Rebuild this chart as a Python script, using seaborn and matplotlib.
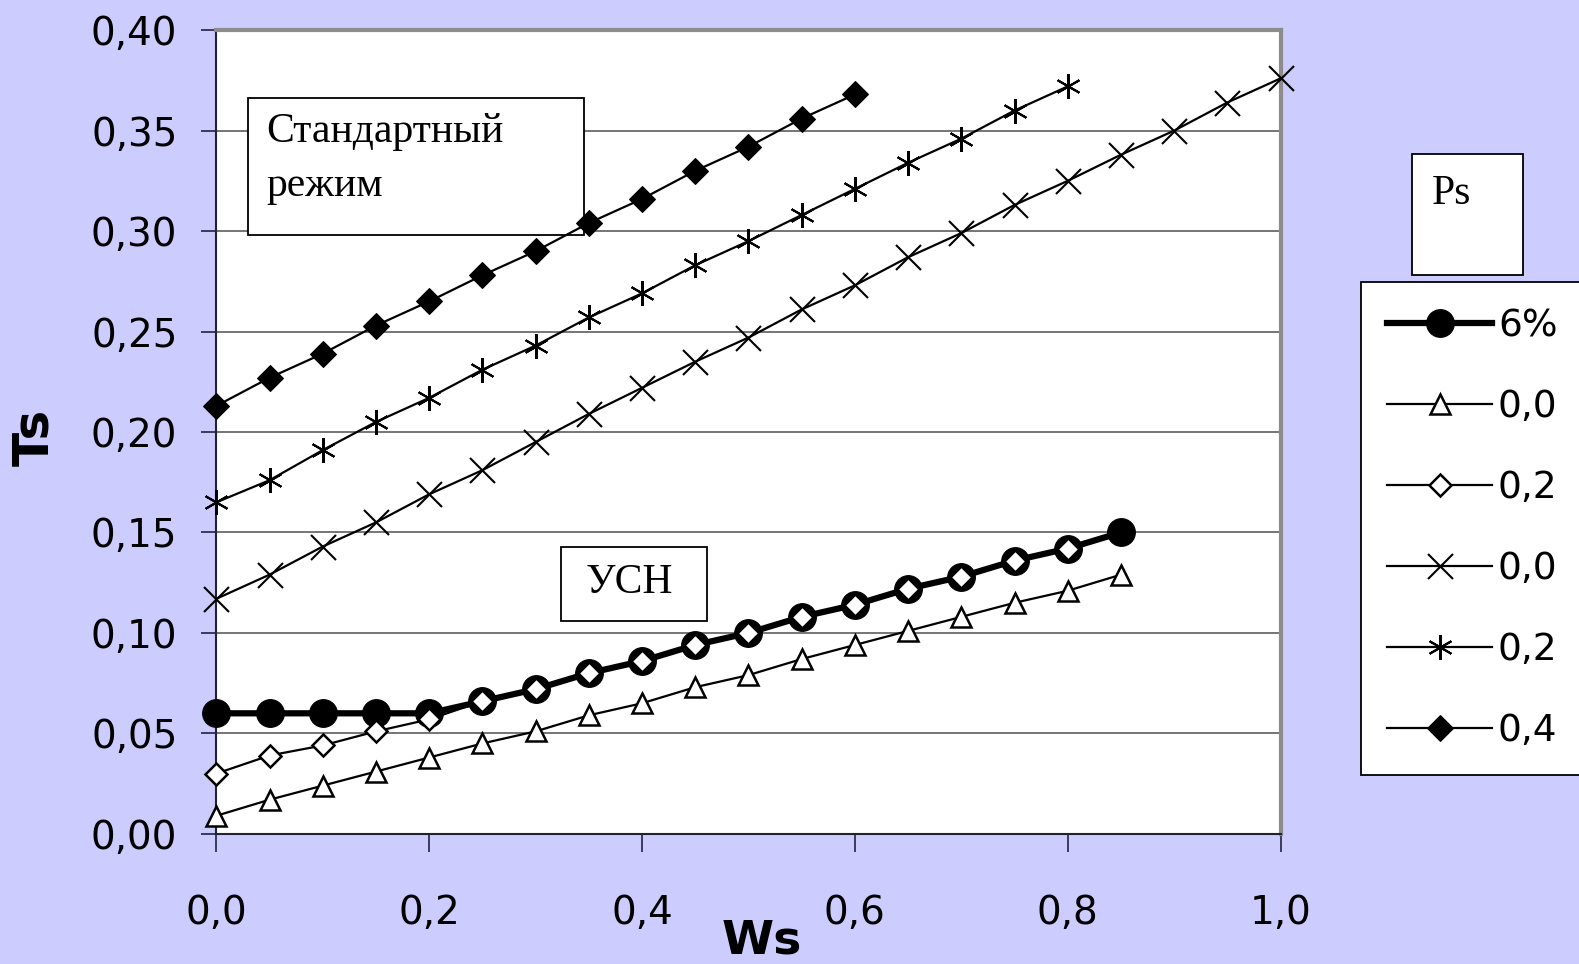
import pandas as pd
import seaborn as sns
import matplotlib.pyplot as plt
from matplotlib.patches import Rectangle

# Values (Ws step 0.05)
ws = [round(0.05 * i, 2) for i in range(21)]

ts_6pct = [0.060, 0.060, 0.060, 0.060, 0.060, 0.066, 0.072, 0.080, 0.086, 0.094,
           0.100, 0.108, 0.114, 0.122, 0.128, 0.136, 0.142, 0.150]
ts_usn_00 = [0.009, 0.017, 0.024, 0.031, 0.038, 0.045, 0.051, 0.059, 0.065, 0.073,
             0.079, 0.087, 0.094, 0.101, 0.108, 0.115, 0.121, 0.129]
ts_usn_02 = [0.030, 0.039, 0.044, 0.051, 0.057, 0.066, 0.072, 0.080, 0.086, 0.094,
             0.100, 0.108, 0.114, 0.122, 0.128, 0.136, 0.142]
ts_std_00 = [0.117, 0.129, 0.143, 0.155, 0.169, 0.181, 0.195, 0.209, 0.222, 0.235,
             0.247, 0.261, 0.273, 0.287, 0.299, 0.313, 0.325, 0.338, 0.350, 0.364, 0.376]
ts_std_02 = [0.165, 0.176, 0.191, 0.205, 0.217, 0.231, 0.243, 0.257, 0.269, 0.283,
             0.295, 0.308, 0.321, 0.334, 0.346, 0.360, 0.372]
ts_std_04 = [0.213, 0.227, 0.239, 0.253, 0.265, 0.278, 0.290, 0.304, 0.316, 0.330,
             0.342, 0.356, 0.368]

y_ticks = [0.00, 0.05, 0.10, 0.15, 0.20, 0.25, 0.30, 0.35, 0.40]
x_ticks = [0.0, 0.2, 0.4, 0.6, 0.8, 1.0]

bg = "#ccccff"


def main():
    fig = plt.figure(figsize=(15.79, 9.64), dpi=100, facecolor=bg)
    ax = fig.add_axes([0.137, 0.135, 0.674, 0.8337])
    ax.set_facecolor("white")

    series = [
        ("6%", ts_6pct, dict(marker="o", markersize=20, linewidth=4.5,
                             markerfacecolor="black", markeredgecolor="black")),
        ("0,0", ts_usn_00, dict(marker="^", markersize=14, linewidth=1.6,
                                markerfacecolor="white", markeredgecolor="black", markeredgewidth=1.8)),
        ("0,2", ts_usn_02, dict(marker="D", markersize=11, linewidth=1.6,
                                markerfacecolor="white", markeredgecolor="black", markeredgewidth=1.8)),
        ("0,0", ts_std_00, dict(marker="x", markersize=18, linewidth=1.6,
                                markeredgecolor="black", markeredgewidth=1.5)),
        ("0,2", ts_std_02, dict(marker=(6, 2, 0), markersize=18, linewidth=1.6,
                                markeredgecolor="black", markeredgewidth=1.5)),
        ("0,4", ts_std_04, dict(marker="D", markersize=13, linewidth=1.6,
                                markerfacecolor="black", markeredgecolor="black")),
    ]

    for i, (label, vals, kw) in enumerate(series):
        df = pd.DataFrame({"Ws": ws[:len(vals)], "Ts": vals})
        sns.lineplot(data=df, x="Ws", y="Ts", ax=ax, color="black", label=label,
                     zorder=4 + i, clip_on=False, **kw)

    ax.set_xlim(0, 1.0)
    ax.set_ylim(0, 0.40)
    ax.set_xticks(x_ticks)
    ax.set_yticks(y_ticks)
    ax.set_xticklabels([f"{v:.1f}".replace(".", ",") for v in x_ticks])
    ax.set_yticklabels([f"{v:.2f}".replace(".", ",") for v in y_ticks])
    ax.tick_params(axis="y", direction="out", length=11, width=1.2, pad=17,
                   labelsize=28, color="#222244")
    ax.tick_params(axis="x", direction="out", length=13, width=1.2, pad=30,
                   labelsize=28, color="#222244")
    ax.set_xlabel("")
    ax.set_ylabel("")

    ax.yaxis.grid(True, color="#6a6a6a", linewidth=1.3)
    ax.xaxis.grid(False)
    ax.set_axisbelow(True)

    for side in ["left", "bottom"]:
        ax.spines[side].set_color("#222233")
        ax.spines[side].set_linewidth(1.5)
    for side in ["top", "right"]:
        ax.spines[side].set_color("#8c8c8c")
        ax.spines[side].set_linewidth(3)

    fig.text(0.022, 0.546, "Ts", rotation=90, fontsize=36, fontweight="bold",
             ha="center", va="center")
    fig.text(0.4825, 0.047, "Ws", fontsize=34, fontweight="bold",
             ha="center", va="top")

    # annotation boxes
    ax.add_patch(Rectangle((0.0293, 0.7456), 0.316, 0.1704, transform=ax.transAxes,
                           facecolor="white", edgecolor="black", linewidth=1.3, zorder=3))
    ax.text(0.0473, 0.897, "Стандартный\nрежим", transform=ax.transAxes,
            family="Liberation Serif", fontsize=30, ha="left", va="top",
            linespacing=1.5, zorder=3.5)
    ax.add_patch(Rectangle((0.3236, 0.2644), 0.1371, 0.0926, transform=ax.transAxes,
                           facecolor="white", edgecolor="black", linewidth=1.3, zorder=3))
    ax.text(0.388, 0.313, "УСН", transform=ax.transAxes, family="Liberation Serif",
            fontsize=30, ha="center", va="center", zorder=3.5)

    # legend title box
    fig.patches.append(Rectangle((0.894, 0.7147), 0.0703, 0.1255, transform=fig.transFigure,
                                 facecolor="white", edgecolor="black", linewidth=1.3))
    fig.text(0.9065, 0.799, "Ps", family="Liberation Serif", fontsize=30,
             ha="left", va="center")

    leg = ax.legend(loc="upper left", bbox_to_anchor=(0.862, 0.7075),
                    bbox_transform=fig.transFigure, fontsize=27, frameon=True,
                    fancybox=False, edgecolor="black", framealpha=1,
                    handlelength=2.8, handletextpad=0.15, labelspacing=1.2,
                    borderpad=0.7, borderaxespad=0)
    leg.get_frame().set_linewidth(1.3)

    fig.savefig("out.png", dpi=100, facecolor=bg)


main()
